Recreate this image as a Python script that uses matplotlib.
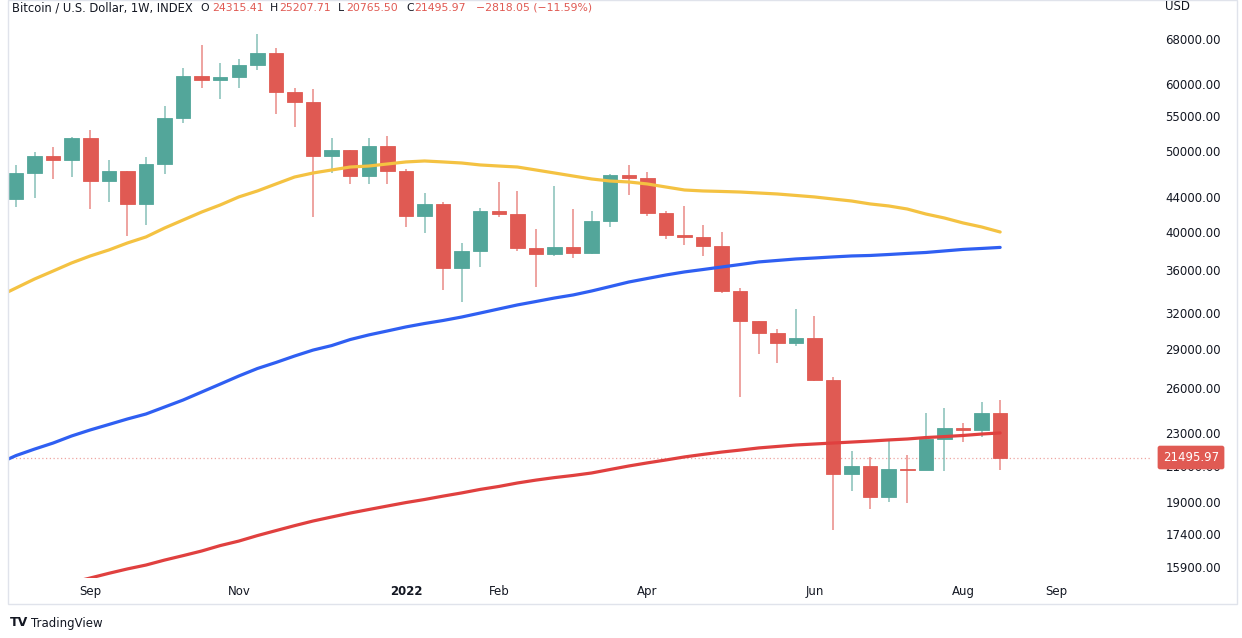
import numpy as np
import pandas as pd
import matplotlib
matplotlib.use("Agg")
import matplotlib.pyplot as plt
from matplotlib import transforms
from matplotlib.patches import Rectangle
from matplotlib.ticker import NullLocator

# weekly candles, BTC/USD index
weeks = pd.date_range("2021-08-09", periods=54, freq="7D")

opens = [43800, 47000, 49300, 48780, 51780, 46000, 47250, 43150, 48200, 54670,
         61470, 60745, 61300, 63250, 65430, 58730, 57180, 49320, 50060, 46680,
         50700, 47290, 41820, 43150, 36240, 37920, 42360, 42010, 38290, 37640,
         38370, 37770, 41240, 46810, 46420, 42090, 39620, 39400, 38440, 33990,
         31320, 30310, 29430, 29870, 26570, 20540, 21020, 19300, 20830, 20770,
         22600, 23320, 23170, 24315.41]
highs = [48100, 49800, 50480, 51900, 52940, 48780, 47350, 49180, 56510, 62840,
         66890, 63600, 64310, 68880, 66280, 59370, 59210, 51820, 50100, 51820,
         52070, 47550, 44470, 43460, 38760, 42680, 45840, 44790, 40320, 45380,
         42560, 42360, 46960, 48080, 47190, 42360, 42980, 40760, 40020, 34240,
         31330, 30610, 32350, 31760, 26810, 21880, 21540, 22490, 21640, 24280,
         24650, 23660, 25050, 25207.71]
lows = [42850, 43950, 46300, 46550, 42600, 43380, 39580, 40760, 46940, 53920,
        59470, 57600, 59470, 62440, 55280, 53420, 41640, 47070, 45590, 45630,
        45630, 40570, 39910, 34080, 33000, 36280, 41700, 37970, 34340, 37460,
        37190, 37610, 40500, 44270, 41820, 39220, 38580, 37460, 33780, 25410,
        28580, 27900, 29240, 26560, 17605, 19620, 18640, 19030, 18950, 20750,
        20730, 22430, 22730, 20765.50]
closes = [47000, 49300, 48780, 51780, 46000, 47250, 43150, 48200, 54670, 61470,
          60745, 61300, 63250, 65430, 58730, 57180, 49320, 50060, 46680, 50700,
          47290, 41820, 43150, 36240, 37920, 42360, 42010, 38290, 37640, 38370,
          37770, 41240, 46810, 46420, 42090, 39620, 39400, 38440, 33990, 31320,
          30310, 29430, 29870, 26570, 20540, 21020, 19300, 20830, 20770, 22600,
          23320, 23170, 24315, 21495.97]

# moving averages (one value per week, starting one week before the first candle)
ma_weeks = pd.date_range("2021-08-02", periods=55, freq="7D")
ma_yellow = [33430, 34270, 35130, 35910, 36720, 37430, 38050, 38790, 39440, 40420,
             41320, 42240, 43070, 44030, 44760, 45630, 46510, 47030, 47420, 47810,
             47940, 48210, 48480, 48610, 48480, 48340, 48080, 47940, 47810, 47420,
             47030, 46640, 46260, 46000, 45880, 45630, 45250, 44880, 44760, 44700,
             44630, 44510, 44390, 44210, 44030, 43780, 43540, 43190, 42950, 42590,
             42010, 41550, 40990, 40540, 39980]
ma_blue = [21120, 21610, 22000, 22370, 22810, 23190, 23540, 23900, 24230, 24700,
           25180, 25740, 26310, 26900, 27460, 27920, 28420, 28890, 29250, 29740,
           30120, 30450, 30790, 31080, 31340, 31640, 31990, 32350, 32710, 33020,
           33340, 33620, 33990, 34410, 34840, 35180, 35520, 35820, 36060, 36310,
           36560, 36820, 36970, 37120, 37220, 37330, 37430, 37480, 37580, 37690,
           37790, 37950, 38110, 38210, 38320]
ma_red = [14570, 14730, 14890, 15060, 15240, 15430, 15630, 15820, 15990, 16210,
          16410, 16620, 16870, 17080, 17340, 17580, 17820, 18050, 18250, 18450,
          18630, 18810, 18990, 19150, 19330, 19500, 19690, 19850, 20040, 20200,
          20340, 20460, 20600, 20800, 21000, 21180, 21350, 21530, 21680, 21820,
          21940, 22070, 22160, 22250, 22310, 22370, 22430, 22490, 22560, 22620,
          22710, 22770, 22840, 22930, 23000]

tick_dates = ["2021-09-06", "2021-11-01", "2022-01-03", "2022-02-07",
              "2022-04-04", "2022-06-06", "2022-08-01", "2022-09-05"]
tick_names = ["Sep", "Nov", "2022", "Feb", "Apr", "Jun", "Aug", "Sep"]
price_ticks = [68000, 60000, 55000, 50000, 44000, 40000, 36000, 32000,
               29000, 26000, 23000, 21000, 19000, 17400, 15900]
last_price = 21495.97

GREEN = "#53a69a"
RED = "#e05a53"
DARK = "#131722"

W, H = 1242, 638


def wk(d):
    return (pd.Timestamp(d) - weeks[0]).days / 7.0


def px(x, y):
    return x / W, 1 - y / H


fig = plt.figure(figsize=(W / 100, H / 100), dpi=100)
ax = fig.add_axes([8 / W, 1 - 578 / H, 1142 / W, 578 / H])

o = np.array(opens)
c = np.array(closes)
x = np.array([wk(d) for d in weeks])
col = np.where(c >= o, GREEN, RED)

ax.vlines(x, lows, highs, colors=col, linewidth=1.1, alpha=0.7, zorder=2)
ax.bar(x, np.abs(c - o), bottom=np.minimum(o, c), width=0.78, color=col,
       edgecolor=col, linewidth=0.6, zorder=3)

xm = np.array([wk(d) for d in ma_weeks])
ax.plot(xm, ma_yellow, color="#f4c242", lw=2.3, zorder=4, solid_capstyle="round")
ax.plot(xm, ma_blue, color="#2f5ff2", lw=2.3, zorder=4, solid_capstyle="round")
ax.plot(xm, ma_red, color="#e0403f", lw=2.3, zorder=4, solid_capstyle="round")

ax.axhline(last_price, color=RED, lw=0.9, ls=(0, (1, 2)), alpha=0.55, zorder=1)

ax.set_yscale("log")
ax.set_ylim(15430, 75700)
ax.set_xlim(-0.43, 61.07)
ax.yaxis.set_minor_locator(NullLocator())
ax.set_yticks(price_ticks)
ax.set_yticklabels([f"{v:.2f}" for v in price_ticks])
ax.yaxis.tick_right()
ax.tick_params(axis="y", length=0, pad=11, labelsize=8.5, labelcolor=DARK)

ax.set_xticks([wk(d) for d in tick_dates])
ax.set_xticklabels(tick_names)
ax.tick_params(axis="x", length=0, pad=5, labelsize=8.5, labelcolor=DARK)
for lab in ax.get_xticklabels():
    if lab.get_text() == "2022":
        lab.set_fontweight("bold")

for s in ax.spines.values():
    s.set_visible(False)

# last price tag on the price scale, drawn over the 21000 label as in TradingView
trans = transforms.blended_transform_factory(fig.transFigure, ax.transData)
ax.text(1191 / W, last_price, f"{last_price:.2f}", transform=trans,
        ha="center", va="center", color="white", fontsize=8.5, zorder=10,
        clip_on=False,
        bbox=dict(boxstyle="round,pad=0.45,rounding_size=0.2", fc=RED, ec="none"))

# pane frame
fig.patches.append(Rectangle(px(8, 604), 1229 / W, 604 / H, transform=fig.transFigure,
                             fill=False, edgecolor="#e0e3eb", linewidth=1))

fig.text(*px(1165, 7), "USD", fontsize=8.5, color=DARK, va="center")

# header legend
header = [("Bitcoin / U.S. Dollar, 1W, INDEX", 12, DARK, 8.3),
          ("O", 200, DARK, 7.8), ("24315.41", 212, RED, 7.8),
          ("H", 270, DARK, 7.8), ("25207.71", 279, RED, 7.8),
          ("L", 338, DARK, 7.8), ("20765.50", 346, RED, 7.8),
          ("C", 406, DARK, 7.8), ("21495.97", 414, RED, 7.8),
          ("\u22122818.05 (\u221211.59%)", 476, RED, 7.8)]
for txt, hx, hc, fs in header:
    fig.text(*px(hx, 8), txt, fontsize=fs, color=hc, va="center", ha="left")

fig.text(*px(10, 623), "TV", fontsize=9, fontweight="bold", color=DARK, va="center")
fig.text(*px(31, 623), "TradingView", fontsize=8.5, color=DARK, va="center")

fig.savefig("out.png", dpi=100, facecolor="white")
